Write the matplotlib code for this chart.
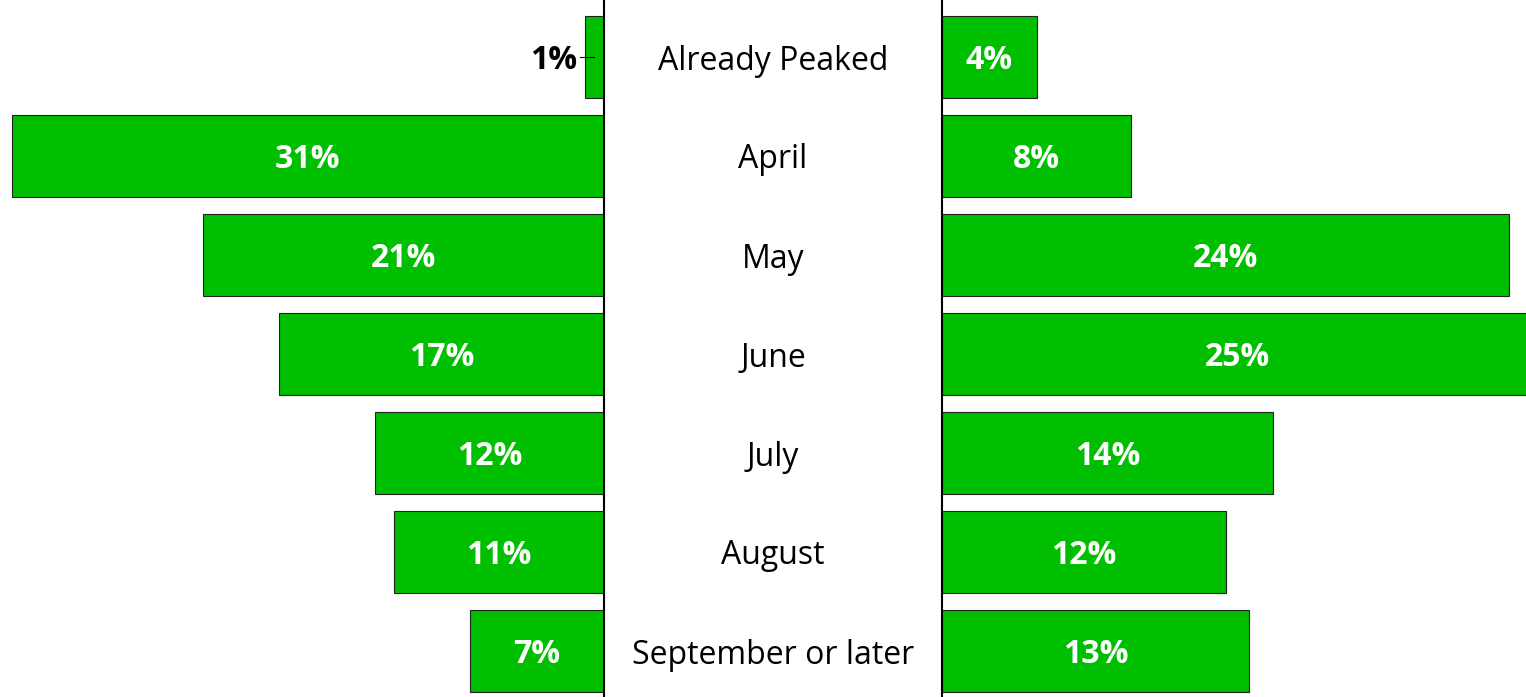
import matplotlib.pyplot as plt

categories = ['Already Peaked', 'April', 'May', 'June', 'July', 'August', 'September or later']
left_values = [1, 31, 21, 17, 12, 11, 7]
right_values = [4, 8, 24, 25, 14, 12, 13]

plt.rcParams['font.family'] = ['Open Sans', 'DejaVu Sans']

W, H = 1526, 697
fig = plt.figure(figsize=(W / 100, H / 100), dpi=100)

bar_color = '#00BF00'
ypos = list(range(len(categories)))
ylim = (6.465, -0.576)
fs = 23
base = 0.12  # baseline shift so caps sit centred on the bar

# left panel, bars grow to the left
axL = fig.add_axes([0, 0, 604 / W, 1])
axL.barh(ypos, left_values, height=0.83, color=bar_color, edgecolor='#222222', linewidth=0.8)
axL.set_xlim(31.62, 0)
axL.set_ylim(*ylim)

# right panel
axR = fig.add_axes([942 / W, 0, 584 / W, 1])
axR.barh(ypos, right_values, height=0.83, color=bar_color, edgecolor='#222222', linewidth=0.8)
axR.set_xlim(0, 24.7)
axR.set_ylim(*ylim)

for ax in (axL, axR):
    ax.set_xticks([])
    ax.set_yticks([])
    for s in ax.spines.values():
        s.set_visible(False)
    ax.patch.set_alpha(0)
axL.spines['right'].set_visible(True)
axL.spines['right'].set_linewidth(1.5)
axR.spines['left'].set_visible(True)
axR.spines['left'].set_linewidth(1.5)

for y, v in zip(ypos, left_values):
    if v >= 3:
        axL.text(v / 2, y + base, f'{v}%', ha='center', va='baseline', color='white',
                 fontsize=fs, fontweight='bold')
    else:
        axL.plot([0.52, 1.26], [y, y], color='black', lw=0.8)
        axL.text(1.41, y + base, f'{v}%', ha='right', va='baseline', color='black',
                 fontsize=fs, fontweight='bold')

for y, v in zip(ypos, right_values):
    axR.text(v / 2, y + base, f'{v}%', ha='center', va='baseline', color='white',
             fontsize=fs, fontweight='bold')

# category labels in the middle gap
for y, c in zip(ypos, categories):
    fy = 1 - (57 + 99 * y + 12.5) / H
    fig.text(773 / W, fy, c, ha='center', va='baseline', fontsize=fs, color='black')

fig.savefig('out.png', dpi=100)
